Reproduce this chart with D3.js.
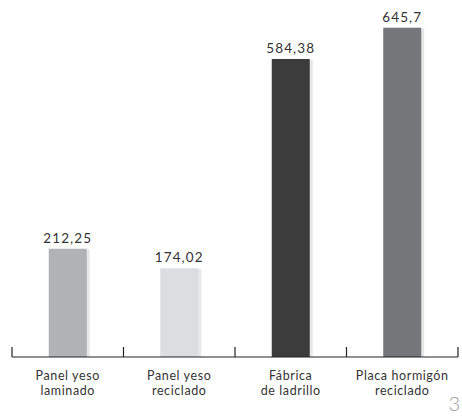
<!DOCTYPE html>
<html><head><meta charset="utf-8">
<script src="https://cdn.jsdelivr.net/npm/d3@7"></script>
<style>body{margin:0;background:#fff}svg{display:block}</style>
</head><body>
<svg id="c" width="462" height="416"></svg>
<script>
const categories = [["Panel yeso","laminado"],["Panel yeso","reciclado"],["Fábrica","de ladrillo"],["Placa hormigón","reciclado"]];
const values = [212.25, 174.02, 584.38, 645.7];
const valueLabels = ["212,25","174,02","584,38","645,7"];
const colors = ["#b1b2b4","#dcdddf","#3c3c3c","#76777b"];

const svg = d3.select("#c");
const font = "Lato, 'Open Sans', sans-serif";
const x = d3.scaleBand().domain(d3.range(values.length)).range([12, 458]).paddingInner(0).paddingOuter(0);
const y = d3.scaleLinear().domain([0, 700]).range([357, 0]);
const bw = 38;

const g = svg.append("g");
// shadows
g.selectAll("rect.sh").data(values).join("rect")
  .attr("x", (d,i) => x(i) + x.bandwidth()/2 - bw/2 + 3)
  .attr("y", d => y(d) + 1)
  .attr("width", bw).attr("height", d => y(0) - y(d) - 1)
  .attr("fill", "#e6e7e8");
g.selectAll("rect.bar").data(values).join("rect")
  .attr("x", (d,i) => x(i) + x.bandwidth()/2 - bw/2)
  .attr("y", d => y(d))
  .attr("width", bw).attr("height", d => y(0) - y(d))
  .attr("fill", (d,i) => colors[i]);

g.selectAll("text.v").data(values).join("text")
  .attr("x", (d,i) => x(i) + x.bandwidth()/2)
  .attr("y", d => y(d) - 6)
  .attr("text-anchor", "middle")
  .attr("font-family", font).attr("font-size", 13.5).attr("letter-spacing", 1.1).attr("fill", "#333")
  .text((d,i) => valueLabels[i]);

// axis
const ax = svg.append("g");
ax.append("line").attr("x1", 12).attr("x2", 458).attr("y1", 357).attr("y2", 357).attr("stroke", "#222").attr("stroke-width", 1.2);
const tickPos = d3.range(values.length).map(i => x(i)).concat([x(values.length-1) + x.bandwidth()]);
ax.selectAll("line.t").data(tickPos).join("line")
  .attr("x1", d => d).attr("x2", d => d).attr("y1", 347).attr("y2", 357)
  .attr("stroke", "#222").attr("stroke-width", 1.2);

const lab = svg.selectAll("text.c").data(categories).join("text")
  .attr("text-anchor", "middle")
  .attr("font-family", font).attr("font-size", 12.5).attr("letter-spacing", 0.6).attr("fill", "#333");
lab.each(function(d,i){
  const t = d3.select(this);
  d.forEach((line, j) => t.append("tspan").attr("x", x(i) + x.bandwidth()/2).attr("y", 380 + j*15).text(line));
});

svg.append("text").attr("x", 460).attr("y", 411).attr("text-anchor", "end")
  .attr("font-family", font).attr("font-weight", 300).attr("font-size", 20).attr("fill", "#999").text("3");
</script>
</body></html>
